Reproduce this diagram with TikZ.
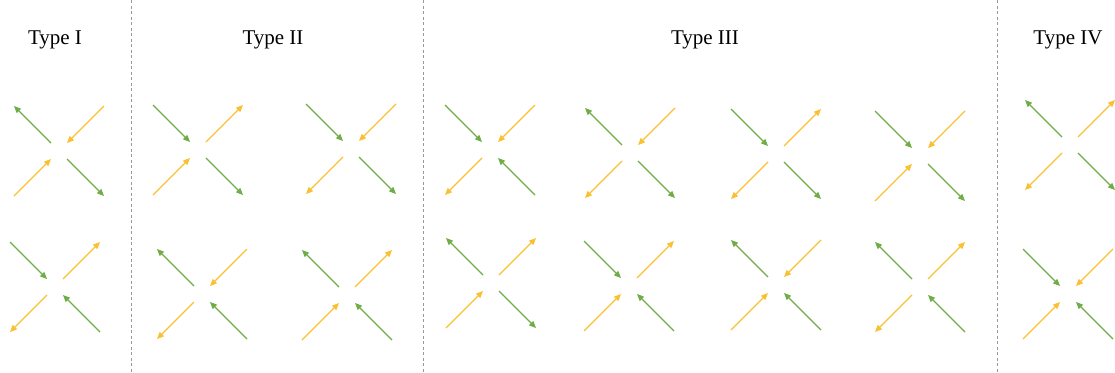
\documentclass[tikz,border=0pt]{standalone}
\usepackage{fontspec}
\setmainfont{Liberation Serif}
\usetikzlibrary{arrows.meta}
\definecolor{agreen}{RGB}{112,173,71}
\definecolor{ayellow}{RGB}{250,192,50}
\tikzset{
  gr/.style={draw=agreen,line width=1.1pt,>={Triangle[length=7pt,width=6pt]}},
  ye/.style={draw=ayellow,line width=1.1pt,>={Triangle[length=7pt,width=6pt]}},
  sep/.style={draw=gray!80,line width=0.8pt,dash pattern=on 3pt off 2.5pt},
  title/.style={font=\fontsize{21}{25}\selectfont,anchor=base}
}
% center x, center y, TL, TR, BL, BR  (-> = towards centre, <- = away)
\newcommand\xcell[6]{%
  \draw[gr,#3] (#1-45,#2-45) -- (#1-8,#2-8);
  \draw[ye,#4] (#1+45,#2-45) -- (#1+8,#2-8);
  \draw[ye,#5] (#1-45,#2+45) -- (#1-8,#2+8);
  \draw[gr,#6] (#1+45,#2+45) -- (#1+8,#2+8);
}
\begin{document}
\begin{tikzpicture}[x=1pt,y=-1pt]
\useasboundingbox (0,0) rectangle (1115,372);
\coordinate (s1a) at (131,0); \coordinate (s1b) at (131,372);
\coordinate (s2a) at (423,0); \coordinate (s2b) at (423,372);
\coordinate (s3a) at (997,0); \coordinate (s3b) at (997,372);
\draw[sep] (s1a) -- (s1b);
\draw[sep] (s2a) -- (s2b);
\draw[sep] (s3a) -- (s3b);
\node[title] (t1) at (55,44) {Type I};
\node[title] (t2) at (273,44) {Type II};
\node[title] (t3) at (705,44) {Type III};
\node[title] (t4) at (1068,44) {Type IV};
% Type I
\xcell{59}{151}{<-}{->}{->}{<-}
\xcell{55}{287}{->}{<-}{<-}{->}
% Type II
\xcell{198}{150}{->}{<-}{->}{<-}
\xcell{351}{149}{->}{->}{<-}{<-}
\xcell{202}{294}{<-}{->}{<-}{->}
\xcell{347}{295}{<-}{<-}{->}{->}
% Type III
\xcell{490}{150}{->}{->}{<-}{->}
\xcell{630}{153}{<-}{->}{<-}{<-}
\xcell{776}{154}{->}{<-}{<-}{<-}
\xcell{920}{156}{->}{->}{->}{<-}
\xcell{491}{283}{<-}{<-}{->}{<-}
\xcell{629}{286}{->}{<-}{->}{->}
\xcell{776}{285}{<-}{->}{->}{->}
\xcell{920}{287}{<-}{<-}{<-}{->}
% Type IV
\xcell{1070}{145}{<-}{<-}{<-}{<-}
\xcell{1068}{294}{->}{->}{->}{->}
\end{tikzpicture}
\end{document}
